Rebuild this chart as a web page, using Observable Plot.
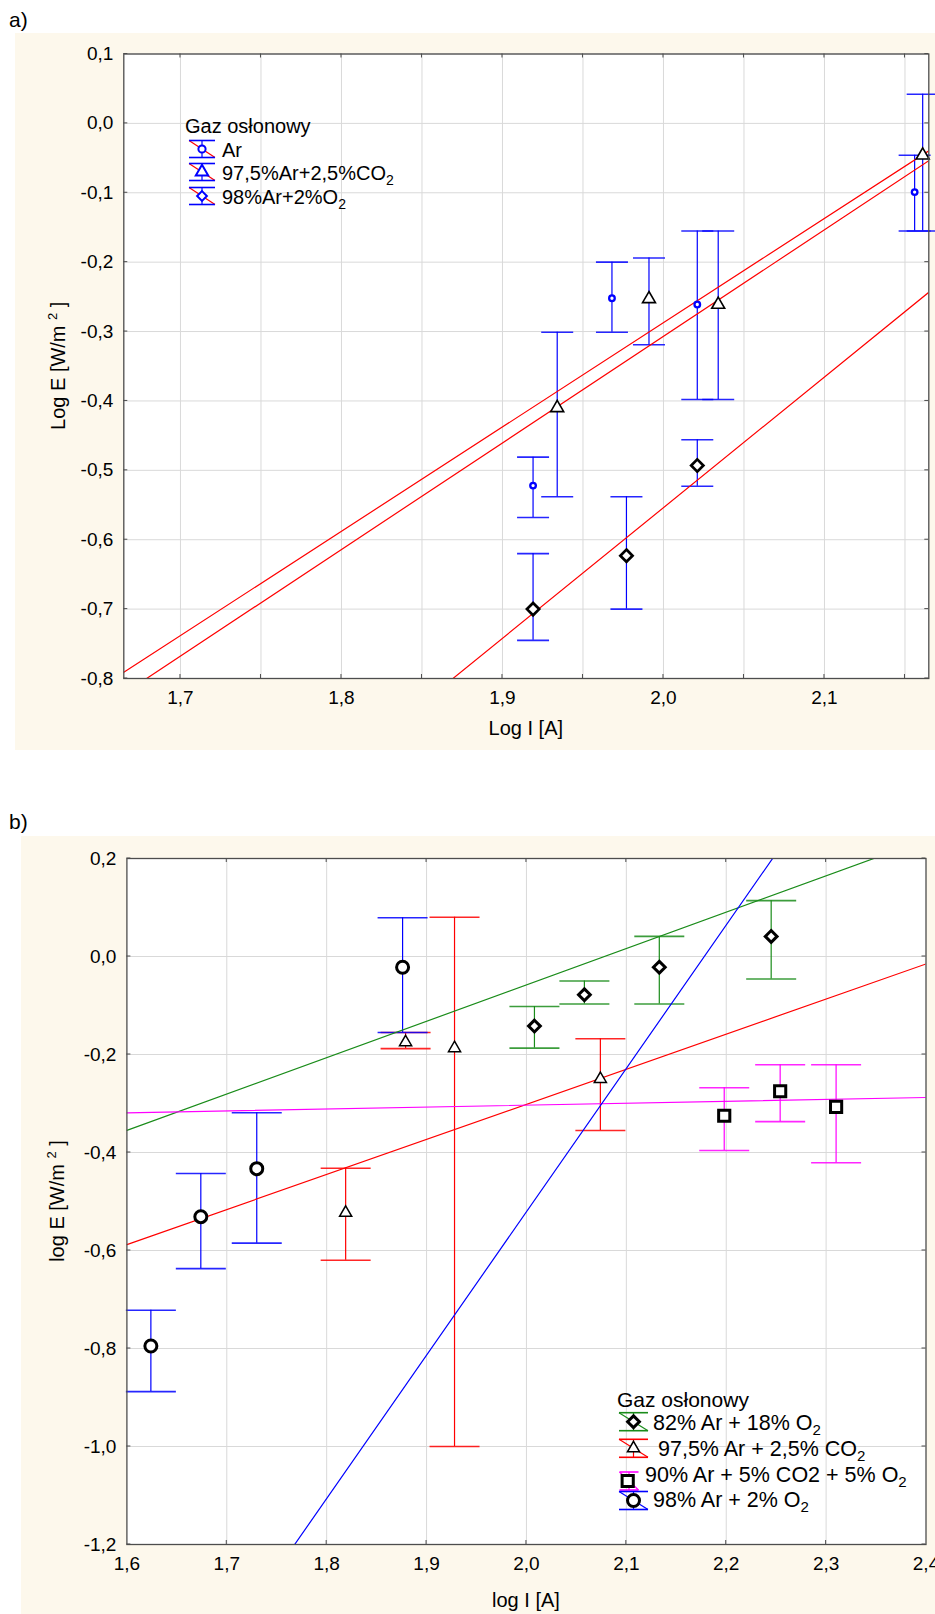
<!DOCTYPE html>
<html><head><meta charset="utf-8">
<script src="https://cdn.jsdelivr.net/npm/d3@7"></script>
<script src="https://cdn.jsdelivr.net/npm/@observablehq/plot@0.6"></script>
<style>
body{margin:0;background:#fff;}
#fig{position:relative;width:935px;height:1614px;overflow:hidden;font-family:"Liberation Sans",Arial,sans-serif;}
.cream{position:absolute;background:#fdf8ec;}
#fig > svg{position:absolute;left:0;}
</style></head><body>
<div id="fig">
  <div class="cream" style="left:15px;top:33px;width:920px;height:717px"></div>
  <div class="cream" style="left:21px;top:836px;width:914px;height:778px"></div>
</div>
<script>
// ---------------- Panel a data ----------------
const legendTitle = "Gaz osłonowy";
const aNames = [["Ar"], ["97,5%Ar+2,5%CO", "2"], ["98%Ar+2%O", "2"]];
const aArX  = [1.919, 1.968, 2.021, 2.156];
const aArY  = [-0.522, -0.252, -0.261, -0.099];
const aArLo = [-0.568, -0.301, -0.398, -0.155];
const aArHi = [-0.481, -0.200, -0.155, -0.046];
const aCoX  = [1.934, 1.991, 2.034, 2.161];
const aCoY  = [-0.410, -0.253, -0.261, -0.046];
const aCoLo = [-0.538, -0.319, -0.398, -0.155];
const aCoHi = [-0.301, -0.194, -0.155, 0.042];
const aO2X  = [1.919, 1.977, 2.021];
const aO2Y  = [-0.700, -0.623, -0.493];
const aO2Lo = [-0.745, -0.700, -0.523];
const aO2Hi = [-0.620, -0.538, -0.456];
// fitted lines y = intercept + slope * x
const aFitIntercept = [-3.3789, -3.2932, -4.3198];
const aFitSlope     = [1.536, 1.503, 1.883];
const aXTicks = [1.7, 1.8, 1.9, 2.0, 2.1];
const aXGrid  = [1.70, 1.75, 1.80, 1.85, 1.90, 1.95, 2.00, 2.05, 2.10, 2.15];
const aYTicks = [0.1, 0.0, -0.1, -0.2, -0.3, -0.4, -0.5, -0.6, -0.7, -0.8];
const aXDomain = [1.6648, 2.1648];
const aYDomain = [-0.8, 0.1];

// ---------------- Panel b data ----------------
const bNames = [["82% Ar + 18% O", "2"], ["97,5% Ar + 2,5% CO", "2"], ["90% Ar + 5% CO2 + 5% O", "2"], ["98% Ar + 2% O", "2"]];
const bGrX  = [2.008, 2.058, 2.133, 2.245];
const bGrY  = [-0.142, -0.078, -0.022, 0.041];
const bGrLo = [-0.187, -0.097, -0.097, -0.046];
const bGrHi = [-0.102, -0.050, 0.041, 0.114];
const bReX  = [1.819, 1.879, 1.928, 2.074];
const bReY  = [-0.523, -0.175, -0.187, -0.250];
const bReLo = [-0.620, -0.188, -1.000, -0.355];
const bReHi = [-0.432, -0.155, 0.080, -0.168];
const bMaX  = [2.198, 2.254, 2.310];
const bMaY  = [-0.325, -0.275, -0.307];
const bMaLo = [-0.396, -0.337, -0.421];
const bMaHi = [-0.268, -0.221, -0.221];
const bBlX  = [1.624, 1.674, 1.730, 1.876];
const bBlY  = [-0.795, -0.531, -0.433, -0.022];
const bBlLo = [-0.888, -0.637, -0.585, -0.155];
const bBlHi = [-0.722, -0.443, -0.319, 0.079];
const bFitIntercept = [-1.542, -1.7336, -0.3814, -6.373];
const bFitSlope     = [0.742, 0.716, 0.039, 2.926];
const bColors = ["#1a8c1a", "#ff0000", "#ff00ff", "#0000ff"];
const bXTicks = [1.6, 1.7, 1.8, 1.9, 2.0, 2.1, 2.2, 2.3, 2.4];
const bXGrid  = [1.7, 1.8, 1.9, 2.0, 2.1, 2.2, 2.3];
const bYTicks = [0.2, 0.0, -0.2, -0.4, -0.6, -0.8, -1.0, -1.2];
const bYGrid  = [0.0, -0.2, -0.4, -0.6, -0.8, -1.0];
const bXDomain = [1.6, 2.4];
const bYDomain = [-1.2, 0.2];

// ---------------- helpers ----------------
const FONT = '"Liberation Sans", Arial, sans-serif';
const fmt = v => d3.format(".1f")(v).replace(".", ",").replace("−", "-");
const rows = (xs, ys, lo, hi) => xs.map((x, i) => ({x, y: ys[i], lo: lo[i], hi: hi[i]}));
const fitRows = (ints, slopes, dom) => ints.flatMap((a, k) => dom.map(x => ({k, x, y: a + slopes[k] * x})));
const capSym = w => ({draw(ctx) { ctx.moveTo(-w, 0); ctx.lineTo(w, 0); }});
const style = {background: "transparent", fontFamily: FONT, fontSize: "19px", color: "#000", overflow: "visible"};

function errMarks(data, color, capW) {
  return [
    Plot.ruleX(data, {x: "x", y1: "lo", y2: "hi", stroke: color, strokeWidth: 1.2}),
    Plot.dot(data, {x: "x", y: "lo", symbol: capSym(capW), fill: "none", stroke: color, strokeWidth: 1.6, strokeOpacity: 0.85}),
    Plot.dot(data, {x: "x", y: "hi", symbol: capSym(capW), fill: "none", stroke: color, strokeWidth: 1.6, strokeOpacity: 0.85})
  ];
}

function addFurniture(svg, plot, xt, yt, xTitle, yTitle, panelLabel, labelY, titleOffsetX, titleOffsetY) {
  const sx = plot.scale("x"), sy = plot.scale("y");
  const [x0, x1] = sx.range, [yb, yt0] = sy.range;
  const g = d3.select(svg).append("g").attr("stroke", "#4d4d4d").attr("stroke-width", 1);
  for (const v of xt) {
    const p = sx.apply(v);
    g.append("line").attr("x1", p).attr("x2", p).attr("y1", yb).attr("y2", yb - 4);
    g.append("line").attr("x1", p).attr("x2", p).attr("y1", yt0).attr("y2", yt0 + 4);
  }
  for (const v of yt) {
    const p = sy.apply(v);
    g.append("line").attr("y1", p).attr("y2", p).attr("x1", x0).attr("x2", x0 + 4);
    g.append("line").attr("y1", p).attr("y2", p).attr("x1", x1).attr("x2", x1 - 4);
  }
  const s = d3.select(svg);
  s.append("text").attr("x", (x0 + x1) / 2).attr("y", yb + titleOffsetY).attr("text-anchor", "middle")
    .attr("font-size", 20).attr("fill", "#000").text(xTitle);
  const yc = (yb + yt0) / 2;
  const t = s.append("text").attr("transform", `translate(${titleOffsetX},${yc}) rotate(-90)`)
    .attr("text-anchor", "middle").attr("font-size", 20).attr("fill", "#000");
  t.append("tspan").text(yTitle + " ");
  t.append("tspan").attr("font-size", 13).attr("dy", -8).text("2");
  t.append("tspan").attr("dy", 8).text(" ]");
  s.append("text").attr("x", 9).attr("y", labelY).attr("text-anchor", "start").attr("font-size", 21).attr("fill", "#000").text(panelLabel);
}

function legendText(sel, x, y, parts, size) {
  const t = sel.append("text").attr("x", x).attr("y", y).attr("text-anchor", "start").attr("font-size", size).attr("fill", "#000");
  t.append("tspan").text(parts[0]);
  if (parts[1]) t.append("tspan").attr("font-size", size * 0.7).attr("dy", 5).text(parts[1]);
}
function symPath(sel, type, r, cx, cy, fill, stroke, sw) {
  sel.append("path").attr("d", d3.symbol(type, Math.PI * r * r)()).attr("transform", `translate(${cx},${cy})`)
    .attr("fill", fill).attr("stroke", stroke).attr("stroke-width", sw);
}
function legendGlyph(sel, cx, cy, hw, hh, barColor, lineColor) {
  sel.append("line").attr("x1", cx - hw).attr("x2", cx + hw).attr("y1", cy - hh).attr("y2", cy + hh).attr("stroke", lineColor).attr("stroke-width", 1.2);
  sel.append("line").attr("x1", cx - hw).attr("x2", cx + hw).attr("y1", cy - hh).attr("y2", cy - hh).attr("stroke", barColor).attr("stroke-width", 1.6);
  sel.append("line").attr("x1", cx - hw).attr("x2", cx + hw).attr("y1", cy + hh).attr("y2", cy + hh).attr("stroke", barColor).attr("stroke-width", 1.6);
  sel.append("line").attr("x1", cx).attr("x2", cx).attr("y1", cy - hh).attr("y2", cy + hh).attr("stroke", barColor).attr("stroke-width", 1.2);
}

const fig = document.getElementById("fig");

// ---------------- Panel a ----------------
const aAr = rows(aArX, aArY, aArLo, aArHi);
const aCo = rows(aCoX, aCoY, aCoLo, aCoHi);
const aO2 = rows(aO2X, aO2Y, aO2Lo, aO2Hi);
const blue = "#0000ff";
const plotA = Plot.plot({
  width: 935, height: 760,
  marginLeft: 123.3, marginRight: 6.7, marginTop: 53.5, marginBottom: 82,
  x: {domain: aXDomain}, y: {domain: aYDomain},
  style,
  marks: [
    Plot.frame({fill: "white", stroke: "none"}),
    Plot.ruleX(aXGrid, {stroke: "#d9d9d9"}),
    Plot.ruleY(aYTicks, {stroke: "#d9d9d9"}),
    ...errMarks(aAr, blue, 16), ...errMarks(aCo, blue, 16), ...errMarks(aO2, blue, 16),
    Plot.line(fitRows(aFitIntercept, aFitSlope, aXDomain), {x: "x", y: "y", z: "k", stroke: "#ff0000", strokeWidth: 1.2, clip: true}),
    Plot.dot(aAr, {x: "x", y: "y", symbol: "circle", r: 2.8, fill: "white", stroke: blue, strokeWidth: 2.3}),
    Plot.dot(aCo, {x: "x", y: "y", symbol: "triangle", r: 4.8, fill: "white", stroke: "#000", strokeWidth: 1.6}),
    Plot.dot(aO2, {x: "x", y: "y", symbol: "diamond2", r: 5.5, fill: "white", stroke: "#000", strokeWidth: 2.7}),
    Plot.frame({stroke: "#4d4d4d", strokeWidth: 1.3}),
    Plot.axisX({ticks: aXTicks, tickFormat: fmt, tickSize: 0, tickPadding: 12, label: null}),
    Plot.axisY({ticks: aYTicks, tickFormat: fmt, tickSize: 0, tickPadding: 10.5, label: null})
  ]
});
plotA.style.top = "0px";
fig.appendChild(plotA);
addFurniture(plotA, plotA, aXGrid, aYTicks, "Log I [A]", "Log E [W/m", "a)", 27, 65, 57);
{
  const L = d3.select(plotA).append("g").attr("font-family", FONT);
  L.append("text").attr("x", 185).attr("y", 133).attr("text-anchor", "start").attr("font-size", 20).attr("fill", "#000").text(legendTitle);
  const cys = [149, 172, 196];
  const types = [d3.symbolCircle, d3.symbolTriangle, d3.symbolDiamond2];
  const rs = [3.6, 4.6, 4.4];
  cys.forEach((cy, i) => {
    legendGlyph(L, 202, cy, 13, 8.5, blue, "#ff0000");
    symPath(L, types[i], rs[i], 202, cy, "white", blue, 2);
    legendText(L, 222, cy + 7.5, aNames[i], 20);
  });
}

// ---------------- Panel b ----------------
const bGr = rows(bGrX, bGrY, bGrLo, bGrHi);
const bRe = rows(bReX, bReY, bReLo, bReHi);
const bMa = rows(bMaX, bMaY, bMaLo, bMaHi);
const bBl = rows(bBlX, bBlY, bBlLo, bBlHi);
const bFits = fitRows(bFitIntercept, bFitSlope, bXDomain);
const plotB = Plot.plot({
  width: 935, height: 814,
  marginLeft: 126.4, marginRight: 9.5, marginTop: 58, marginBottom: 70,
  x: {domain: bXDomain}, y: {domain: bYDomain},
  style,
  marks: [
    Plot.frame({fill: "white", stroke: "none"}),
    Plot.ruleX(bXGrid, {stroke: "#d9d9d9"}),
    Plot.ruleY(bYGrid, {stroke: "#d9d9d9"}),
    ...errMarks(bGr, bColors[0], 25), ...errMarks(bRe, bColors[1], 25),
    ...errMarks(bMa, bColors[2], 25), ...errMarks(bBl, bColors[3], 25),
    ...bColors.map((c, k) => Plot.line(bFits.filter(d => d.k === k), {x: "x", y: "y", stroke: c, strokeWidth: 1.2, clip: true})),
    Plot.dot(bGr, {x: "x", y: "y", symbol: "diamond2", r: 5.3, fill: "white", stroke: "#000", strokeWidth: 3}),
    Plot.dot(bRe, {x: "x", y: "y", symbol: "triangle", r: 4.5, fill: "white", stroke: "#000", strokeWidth: 1.5}),
    Plot.dot(bMa, {x: "x", y: "y", symbol: "square", r: 6.3, fill: "white", stroke: "#000", strokeWidth: 3}),
    Plot.dot(bBl, {x: "x", y: "y", symbol: "circle", r: 6, fill: "white", stroke: "#000", strokeWidth: 3}),
    Plot.frame({stroke: "#4d4d4d", strokeWidth: 1.3}),
    Plot.axisX({ticks: bXTicks, tickFormat: fmt, tickSize: 0, tickPadding: 12, label: null}),
    Plot.axisY({ticks: bYTicks, tickFormat: fmt, tickSize: 0, tickPadding: 10.5, label: null})
  ]
});
plotB.style.top = "800px";
fig.appendChild(plotB);
addFurniture(plotB, plotB, bXGrid, bYTicks, "log I [A]", "log E [W/m", "b)", 29, 64, 63);
{
  const L = d3.select(plotB).append("g").attr("font-family", FONT);
  L.append("text").attr("x", 617).attr("y", 607).attr("text-anchor", "start").attr("font-size", 21).attr("fill", "#000").text(legendTitle);
  // [glyph cx, cy, marker cx, text x, text baseline, glyph half-width]
  const cfg = [
    [633.5, 621.7, 633.5, 653, 630, 14.5],
    [633.5, 648.3, 633.5, 658, 656, 14.5],
    [629, 681, 627.7, 645, 681.7, 9.5],
    [633.5, 700.5, 633.5, 653, 707.3, 14.5]
  ];
  const types = [d3.symbolDiamond2, d3.symbolTriangle, d3.symbolSquare, d3.symbolCircle];
  const rs = [5.3, 4.5, 6.3, 6];
  const sws = [3, 1.5, 3, 3];
  cfg.forEach(([gx, gy, mx, tx, ty, hw], i) => {
    legendGlyph(L, gx, gy, hw, 9, bColors[i], bColors[i]);
    symPath(L, types[i], rs[i], mx, gy, "white", "#000", sws[i]);
    legendText(L, tx, ty, bNames[i], 21.5);
  });
}
</script>
</body></html>
